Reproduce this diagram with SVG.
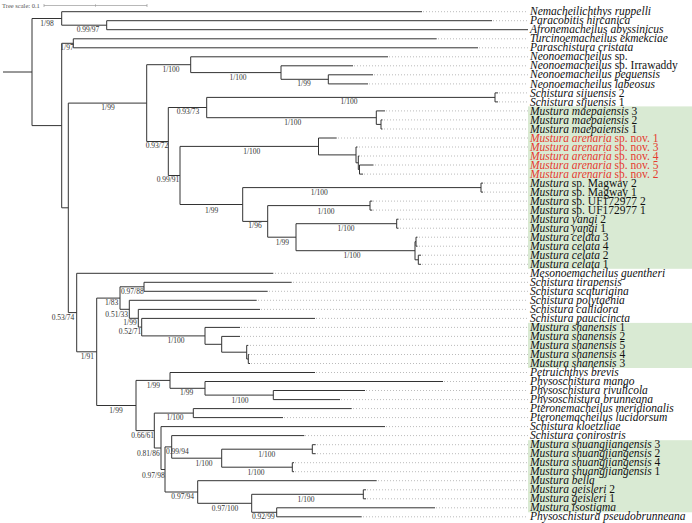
<svg xmlns="http://www.w3.org/2000/svg" width="692" height="523" viewBox="0 0 692 523">
<style>
.br{fill:none;stroke:#333;stroke-width:1}
.ld{stroke:#aaa;stroke-width:0.8;stroke-dasharray:1 2}
.tip{font-family:"Liberation Serif","Times New Roman",serif;font-size:11.5px;fill:#111}
.i{font-style:italic}
.red{fill:#e63a30}
.sup{font-family:"Liberation Serif","Times New Roman",serif;font-size:7.5px;fill:#333;text-anchor:middle}
.hl{fill:#d9ead3}
</style>
<rect width="692" height="523" fill="#fff"/>
<g id="highlights">
<rect class="hl" x="528" y="106.4" width="164" height="162.4"/>
<rect class="hl" x="528" y="322.9" width="164" height="45.1"/>
<rect class="hl" x="528" y="440.2" width="164" height="72.1"/>
</g>
<g id="scale">
<text x="2" y="8" style="font-family:'Liberation Serif',serif;font-size:6.5px;fill:#555">Tree scale: 0.1</text>
<path d="M44,5.5H147M44,4V7M95.5,4.3V6.7M147,4V7" stroke="#999" stroke-width="0.7" fill="none"/>
</g>
<g id="connectors">
<path class="br" d="M3,72H32M32,18.5V125.6M32,18.5H61.7M32,125.6H61.7
M61.7,11.7V25.2M61.7,11.7H422M61.7,25.2H106.7
M106.7,20.7V29.7M106.7,20.7H492M106.7,29.7H528
M61.7,43.3V207.8M61.7,43.3H73.3M61.7,207.8H68.3
M73.3,38.8V47.8M73.3,38.8H436.7M73.3,47.8H478
M68.3,103.1V312.6M68.3,103.1H146.7M68.3,312.6H76.7
M146.7,64.7V141.5M146.7,64.7H190.7M146.7,141.5H168.3
M190.7,56.8V72.6M190.7,56.8H388M190.7,72.6H281
M281,65.8V79.3M281,65.8H353M281,79.3H328.3
M328.3,74.8V83.9M328.3,74.8H373M328.3,83.9H368
M168.3,107.5V175.5M168.3,107.5H206.7M168.3,175.5H180
M206.7,97.4V117.7M206.7,97.4H495M206.7,117.7H376.3
M495,92.9V101.9M495,92.9H498M495,101.9H498
M376.3,110.9V124.4M376.3,110.9H385M376.3,124.4H381
M381,119.9V129M381,119.9H382.5M381,129H382.5
M180,146.4V204.5M180,146.4H318.5M180,204.5H242.7
M318.5,138V154.9M318.5,138H336.7M318.5,154.9H356
M356,147V162.8M356,147H357.5M356,162.8H358.3
M358.3,156V169.5M358.3,156H359.5M358.3,169.5H359.5
M359.5,165V174.1M359.5,165H373.5M359.5,174.1H363
M242.7,187.6V221.4M242.7,187.6H481M242.7,221.4H267.7
M481,183.1V192.1M481,183.1H483M481,192.1H483
M267.7,205.6V237.2M267.7,205.6H370M267.7,237.2H296
M370,201.1V210.1M370,201.1H372.3M370,210.1H372.3
M296,223.7V250.7M296,223.7H396.7M296,250.7H415
M396.7,219.2V228.2M396.7,219.2H398.5M396.7,228.2H398.5
M415,241.7V259.8M415,241.7H416M415,259.8H418.3
M416,237.2V246.2M416,237.2H417.5M416,246.2H417.5
M418.3,255.2V264.3M418.3,255.2H421M418.3,264.3H421
M76.7,273.3V351.8M76.7,273.3H273.3M76.7,351.8H96.7
M96.7,298.1V405.5M96.7,298.1H120M96.7,405.5H136
M120,286.8V309.3M120,286.8H144M120,309.3H129.3
M144,282.3V291.3M144,282.3H291.7M144,291.3H267.7
M129.3,300.3V318.3M129.3,300.3H256.7M129.3,318.3H138.3
M138.3,309.4V327.1M138.3,309.4H260M138.3,327.1H141.7
M141.7,318.4V335.9M141.7,318.4H315M141.7,335.9H205
M205,327.4V344.3M205,327.4H240M205,344.3H221.7
M221.7,336.4V352.2M221.7,336.4H240M221.7,352.2H246.7
M246.7,345.4V359M246.7,345.4H248.3M246.7,359H248.3
M248.3,354.5V363.5M248.3,354.5H249.3M248.3,363.5H250
M136,380.4V430.6M136,380.4H170M136,430.6H154.3
M170,372.5V388.3M170,372.5H315M170,388.3H205
M205,381.5V395.1M205,381.5H443M205,395.1H273.3
M273.3,390.5V399.6M273.3,390.5H365M273.3,399.6H340
M154.3,413.1V448M154.3,413.1H193.3M154.3,448H161
M193.3,408.6V417.6M193.3,408.6H351.7M193.3,417.6H283
M161,426.6V469.5M161,426.6H385M161,469.5H165
M165,446.9V492M165,446.9H171.7M165,492H197.7
M171.7,435.6V458.2M171.7,435.6H304.3M171.7,458.2H221.7
M221.7,449.2V467.2M221.7,449.2H312.3M221.7,467.2H292.3
M312.3,444.7V453.7M312.3,444.7H315.7M312.3,453.7H315.7
M292.3,462.7V471.7M292.3,462.7H294M292.3,471.7H294
M197.7,480.7V503.3M197.7,480.7H376.7M197.7,503.3H251.7
M251.7,494.3V512.3M251.7,494.3H363.3M251.7,512.3H276.7
M363.3,489.8V498.8M363.3,489.8H366M363.3,498.8H366
M276.7,507.8V516.8M276.7,507.8H435M276.7,516.8H361.7"/>
</g>
<g id="support-values">
<text class="sup" x="47" y="25.5">1/98</text>
<text class="sup" x="88" y="31.5">0.99/97</text>
<text class="sup" x="67" y="50.2">1/97</text>
<text class="sup" x="171" y="71.5">1/100</text>
<text class="sup" x="238" y="79.5">1/100</text>
<text class="sup" x="304" y="85.5">1/99</text>
<text class="sup" x="108" y="109.5">1/99</text>
<text class="sup" x="349" y="103.5">1/100</text>
<text class="sup" x="188" y="114.2">0.93/73</text>
<text class="sup" x="292.7" y="124.8">1/100</text>
<text class="sup" x="157" y="148.2">0.93/72</text>
<text class="sup" x="251.7" y="153.5">1/100</text>
<text class="sup" x="168" y="181.8">0.99/91</text>
<text class="sup" x="319.3" y="195.2">1/100</text>
<text class="sup" x="211.7" y="212.5">1/99</text>
<text class="sup" x="326" y="213.5">1/100</text>
<text class="sup" x="255" y="228.2">1/96</text>
<text class="sup" x="346" y="230.8">1/100</text>
<text class="sup" x="282.3" y="244.8">1/99</text>
<text class="sup" x="352" y="257.5">1/100</text>
<text class="sup" x="63" y="319.5">0.53/74</text>
<text class="sup" x="132.3" y="293.5">0.97/88</text>
<text class="sup" x="111.7" y="305.2">1/83</text>
<text class="sup" x="116.7" y="316.8">0.51/33</text>
<text class="sup" x="130" y="325.2">1/99</text>
<text class="sup" x="130" y="333.5">0.52/71</text>
<text class="sup" x="176" y="342.5">1/100</text>
<text class="sup" x="87.3" y="359.2">1/91</text>
<text class="sup" x="153.3" y="387.5">1/99</text>
<text class="sup" x="186.7" y="394.8">1/99</text>
<text class="sup" x="240" y="402.5">1/100</text>
<text class="sup" x="116" y="412.5">1/99</text>
<text class="sup" x="175" y="420.2">1/100</text>
<text class="sup" x="142.7" y="438.2">0.66/61</text>
<text class="sup" x="148.3" y="455.8">0.81/86</text>
<text class="sup" x="177.3" y="454.2">0.99/94</text>
<text class="sup" x="266.7" y="456.8">1/100</text>
<text class="sup" x="204" y="465.8">1/100</text>
<text class="sup" x="256" y="475.2">1/100</text>
<text class="sup" x="153.3" y="477.5">0.97/98</text>
<text class="sup" x="182.7" y="498.5">0.97/94</text>
<text class="sup" x="306" y="501.8">1/100</text>
<text class="sup" x="225" y="510.8">0.97/100</text>
<text class="sup" x="263.3" y="519.2">0.92/99</text>
</g>
<g id="leaf01"><line class="ld" x1="423" y1="11.7" x2="528" y2="11.7"/><text class="tip" x="530" y="15.3"><tspan class="i">Nemacheilichthys ruppelli</tspan></text></g>
<g id="leaf02"><line class="ld" x1="493" y1="20.7" x2="528" y2="20.7"/><text class="tip" x="530" y="24.3"><tspan class="i">Paracobitis hircanica</tspan></text></g>
<g id="leaf03"><text class="tip" x="530" y="33.3"><tspan class="i">Afronemacheilus abyssinicus</tspan></text></g>
<g id="leaf04"><line class="ld" x1="438" y1="38.8" x2="528" y2="38.8"/><text class="tip" x="530" y="42.4"><tspan class="i">Turcinoemacheilus ekmekciae</tspan></text></g>
<g id="leaf05"><line class="ld" x1="479" y1="47.8" x2="528" y2="47.8"/><text class="tip" x="530" y="51.4"><tspan class="i">Paraschistura cristata</tspan></text></g>
<g id="leaf06"><line class="ld" x1="389" y1="56.8" x2="528" y2="56.8"/><text class="tip" x="530" y="60.4"><tspan class="i">Neonoemacheilus</tspan> sp.</text></g>
<g id="leaf07"><line class="ld" x1="354" y1="65.8" x2="528" y2="65.8"/><text class="tip" x="530" y="69.4"><tspan class="i">Neonoemacheilus</tspan> sp. Irrawaddy</text></g>
<g id="leaf08"><line class="ld" x1="374" y1="74.8" x2="528" y2="74.8"/><text class="tip" x="530" y="78.4"><tspan class="i">Neonoemacheilus peguensis</tspan></text></g>
<g id="leaf09"><line class="ld" x1="369" y1="83.9" x2="528" y2="83.9"/><text class="tip" x="530" y="87.5"><tspan class="i">Neonoemacheilus labeosus</tspan></text></g>
<g id="leaf10"><line class="ld" x1="499" y1="92.9" x2="528" y2="92.9"/><text class="tip" x="530" y="96.5"><tspan class="i">Schistura sijuensis</tspan> 2</text></g>
<g id="leaf11"><line class="ld" x1="499" y1="101.9" x2="528" y2="101.9"/><text class="tip" x="530" y="105.5"><tspan class="i">Schistura sijuensis</tspan> 1</text></g>
<g id="leaf12"><line class="ld" x1="386" y1="110.9" x2="528" y2="110.9"/><text class="tip" x="530" y="114.5"><tspan class="i">Mustura maepaiensis</tspan> 3</text></g>
<g id="leaf13"><line class="ld" x1="384" y1="119.9" x2="528" y2="119.9"/><text class="tip" x="530" y="123.5"><tspan class="i">Mustura maepaiensis</tspan> 2</text></g>
<g id="leaf14"><line class="ld" x1="384" y1="129" x2="528" y2="129"/><text class="tip" x="530" y="132.6"><tspan class="i">Mustura maepaiensis</tspan> 1</text></g>
<g id="leaf15"><line class="ld" x1="338" y1="138" x2="528" y2="138"/><text class="tip red" x="530" y="141.6"><tspan class="i">Mustura arenaria</tspan> sp. nov. 1</text></g>
<g id="leaf16"><line class="ld" x1="359" y1="147" x2="528" y2="147"/><text class="tip red" x="530" y="150.6"><tspan class="i">Mustura arenaria</tspan> sp. nov. 3</text></g>
<g id="leaf17"><line class="ld" x1="361" y1="156" x2="528" y2="156"/><text class="tip red" x="530" y="159.6"><tspan class="i">Mustura arenaria</tspan> sp. nov. 4</text></g>
<g id="leaf18"><line class="ld" x1="375" y1="165" x2="528" y2="165"/><text class="tip red" x="530" y="168.6"><tspan class="i">Mustura arenaria</tspan> sp. nov. 5</text></g>
<g id="leaf19"><line class="ld" x1="364" y1="174.1" x2="528" y2="174.1"/><text class="tip red" x="530" y="177.7"><tspan class="i">Mustura arenaria</tspan> sp. nov. 2</text></g>
<g id="leaf20"><line class="ld" x1="484" y1="183.1" x2="528" y2="183.1"/><text class="tip" x="530" y="186.7"><tspan class="i">Mustura</tspan> sp. Magway 2</text></g>
<g id="leaf21"><line class="ld" x1="484" y1="192.1" x2="528" y2="192.1"/><text class="tip" x="530" y="195.7"><tspan class="i">Mustura</tspan> sp. Magway 1</text></g>
<g id="leaf22"><line class="ld" x1="373" y1="201.1" x2="528" y2="201.1"/><text class="tip" x="530" y="204.7"><tspan class="i">Mustura</tspan> sp. UF172977 2</text></g>
<g id="leaf23"><line class="ld" x1="373" y1="210.1" x2="528" y2="210.1"/><text class="tip" x="530" y="213.7"><tspan class="i">Mustura</tspan> sp. UF172977 1</text></g>
<g id="leaf24"><line class="ld" x1="400" y1="219.2" x2="528" y2="219.2"/><text class="tip" x="530" y="222.8"><tspan class="i">Mustura yangi</tspan> 2</text></g>
<g id="leaf25"><line class="ld" x1="400" y1="228.2" x2="528" y2="228.2"/><text class="tip" x="530" y="231.8"><tspan class="i">Mustura yangi</tspan> 1</text></g>
<g id="leaf26"><line class="ld" x1="419" y1="237.2" x2="528" y2="237.2"/><text class="tip" x="530" y="240.8"><tspan class="i">Mustura celata</tspan> 3</text></g>
<g id="leaf27"><line class="ld" x1="419" y1="246.2" x2="528" y2="246.2"/><text class="tip" x="530" y="249.8"><tspan class="i">Mustura celata</tspan> 4</text></g>
<g id="leaf28"><line class="ld" x1="422" y1="255.2" x2="528" y2="255.2"/><text class="tip" x="530" y="258.8"><tspan class="i">Mustura celata</tspan> 2</text></g>
<g id="leaf29"><line class="ld" x1="422" y1="264.3" x2="528" y2="264.3"/><text class="tip" x="530" y="267.9"><tspan class="i">Mustura celata</tspan> 1</text></g>
<g id="leaf30"><line class="ld" x1="275" y1="273.3" x2="528" y2="273.3"/><text class="tip" x="530" y="276.9"><tspan class="i">Mesonoemacheilus guentheri</tspan></text></g>
<g id="leaf31"><line class="ld" x1="293" y1="282.3" x2="528" y2="282.3"/><text class="tip" x="530" y="285.9"><tspan class="i">Schistura tirapensis</tspan></text></g>
<g id="leaf32"><line class="ld" x1="269" y1="291.3" x2="528" y2="291.3"/><text class="tip" x="530" y="294.9"><tspan class="i">Schistura scaturigina</tspan></text></g>
<g id="leaf33"><line class="ld" x1="258" y1="300.3" x2="528" y2="300.3"/><text class="tip" x="530" y="303.9"><tspan class="i">Schistura polytaenia</tspan></text></g>
<g id="leaf34"><line class="ld" x1="261" y1="309.4" x2="528" y2="309.4"/><text class="tip" x="530" y="313"><tspan class="i">Schistura callidora</tspan></text></g>
<g id="leaf35"><line class="ld" x1="316" y1="318.4" x2="528" y2="318.4"/><text class="tip" x="530" y="322"><tspan class="i">Schistura paucicincta</tspan></text></g>
<g id="leaf36"><line class="ld" x1="241" y1="327.4" x2="528" y2="327.4"/><text class="tip" x="530" y="331"><tspan class="i">Mustura shanensis</tspan> 1</text></g>
<g id="leaf37"><line class="ld" x1="241" y1="336.4" x2="528" y2="336.4"/><text class="tip" x="530" y="340"><tspan class="i">Mustura shanensis</tspan> 2</text></g>
<g id="leaf38"><line class="ld" x1="250" y1="345.4" x2="528" y2="345.4"/><text class="tip" x="530" y="349"><tspan class="i">Mustura shanensis</tspan> 5</text></g>
<g id="leaf39"><line class="ld" x1="251" y1="354.5" x2="528" y2="354.5"/><text class="tip" x="530" y="358.1"><tspan class="i">Mustura shanensis</tspan> 4</text></g>
<g id="leaf40"><line class="ld" x1="251" y1="363.5" x2="528" y2="363.5"/><text class="tip" x="530" y="367.1"><tspan class="i">Mustura shanensis</tspan> 3</text></g>
<g id="leaf41"><line class="ld" x1="316" y1="372.5" x2="528" y2="372.5"/><text class="tip" x="530" y="376.1"><tspan class="i">Petruichthys brevis</tspan></text></g>
<g id="leaf42"><line class="ld" x1="444" y1="381.5" x2="528" y2="381.5"/><text class="tip" x="530" y="385.1"><tspan class="i">Physoschistura mango</tspan></text></g>
<g id="leaf43"><line class="ld" x1="366" y1="390.5" x2="528" y2="390.5"/><text class="tip" x="530" y="394.1"><tspan class="i">Physoschistura rivulicola</tspan></text></g>
<g id="leaf44"><line class="ld" x1="341" y1="399.6" x2="528" y2="399.6"/><text class="tip" x="530" y="403.2"><tspan class="i">Physoschistura brunneana</tspan></text></g>
<g id="leaf45"><line class="ld" x1="353" y1="408.6" x2="528" y2="408.6"/><text class="tip" x="530" y="412.2"><tspan class="i">Pteronemacheilus meridionalis</tspan></text></g>
<g id="leaf46"><line class="ld" x1="284" y1="417.6" x2="528" y2="417.6"/><text class="tip" x="530" y="421.2"><tspan class="i">Pteronemacheilus lucidorsum</tspan></text></g>
<g id="leaf47"><line class="ld" x1="386" y1="426.6" x2="528" y2="426.6"/><text class="tip" x="530" y="430.2"><tspan class="i">Schistura kloetzliae</tspan></text></g>
<g id="leaf48"><line class="ld" x1="305" y1="435.6" x2="528" y2="435.6"/><text class="tip" x="530" y="439.2"><tspan class="i">Schistura conirostris</tspan></text></g>
<g id="leaf49"><line class="ld" x1="317" y1="444.7" x2="528" y2="444.7"/><text class="tip" x="530" y="448.3"><tspan class="i">Mustura shuangjiangensis</tspan> 3</text></g>
<g id="leaf50"><line class="ld" x1="317" y1="453.7" x2="528" y2="453.7"/><text class="tip" x="530" y="457.3"><tspan class="i">Mustura shuangjiangensis</tspan> 2</text></g>
<g id="leaf51"><line class="ld" x1="295" y1="462.7" x2="528" y2="462.7"/><text class="tip" x="530" y="466.3"><tspan class="i">Mustura shuangjiangensis</tspan> 4</text></g>
<g id="leaf52"><line class="ld" x1="295" y1="471.7" x2="528" y2="471.7"/><text class="tip" x="530" y="475.3"><tspan class="i">Mustura shuangjiangensis</tspan> 1</text></g>
<g id="leaf53"><line class="ld" x1="378" y1="480.7" x2="528" y2="480.7"/><text class="tip" x="530" y="484.3"><tspan class="i">Mustura bella</tspan></text></g>
<g id="leaf54"><line class="ld" x1="367" y1="489.8" x2="528" y2="489.8"/><text class="tip" x="530" y="493.4"><tspan class="i">Mustura geisleri</tspan> 2</text></g>
<g id="leaf55"><line class="ld" x1="367" y1="498.8" x2="528" y2="498.8"/><text class="tip" x="530" y="502.4"><tspan class="i">Mustura geisleri</tspan> 1</text></g>
<g id="leaf56"><line class="ld" x1="436" y1="507.8" x2="528" y2="507.8"/><text class="tip" x="530" y="511.4"><tspan class="i">Mustura isostigma</tspan></text></g>
<g id="leaf57"><line class="ld" x1="363" y1="516.8" x2="528" y2="516.8"/><text class="tip" x="530" y="520.4"><tspan class="i">Physoschistura pseudobrunneana</tspan></text></g>
</svg>
